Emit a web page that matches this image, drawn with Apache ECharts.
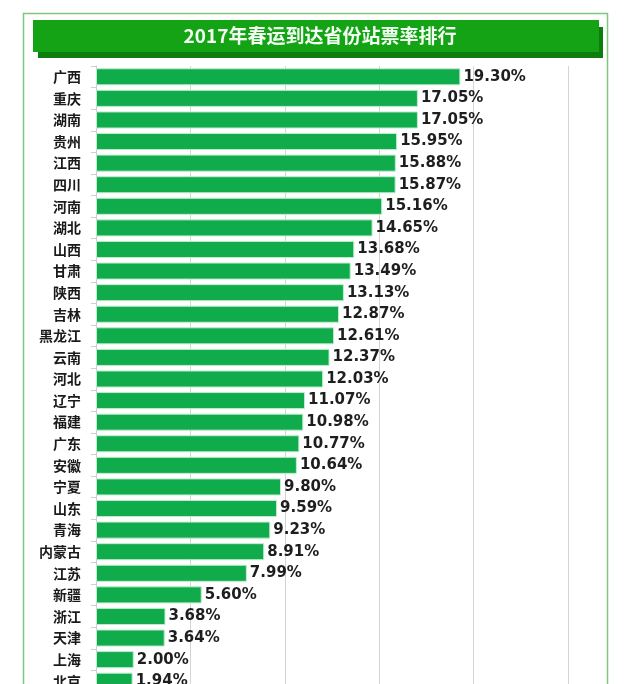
<!DOCTYPE html>
<html>
<head>
<meta charset="utf-8">
<script src="https://cdn.jsdelivr.net/npm/echarts@6/dist/echarts.min.js"></script>
<style>html,body{margin:0;padding:0;background:#fff;overflow:hidden;}#c{width:640px;height:693px;}</style>
</head>
<body>
<div id="c"></div>
<script>
const titleText = '2017年春运到达省份站票率排行';
const provinces = ['广西','重庆','湖南','贵州','江西','四川','河南','湖北','山西','甘肃','陕西','吉林','黑龙江','云南','河北','辽宁','福建','广东','安徽','宁夏','山东','青海','内蒙古','江苏','新疆','浙江','天津','上海','北京'];
const rates = [19.30,17.05,17.05,15.95,15.88,15.87,15.16,14.65,13.68,13.49,13.13,12.87,12.61,12.37,12.03,11.07,10.98,10.77,10.64,9.80,9.59,9.23,8.91,7.99,5.60,3.68,3.64,2.00,1.94];
const xTicks = [0,5,10,15,20,25];

const chart = echarts.init(document.getElementById('c'), null, {renderer:'canvas'});
const cjk = '"Noto Sans CJK SC","Noto Sans",sans-serif';
chart.setOption({
  animation:false,
  backgroundColor:'#ffffff',
  graphic:[
    {type:'rect', shape:{x:23.5,y:13.5,width:584,height:700}, style:{fill:'none',stroke:'#7fc77f',lineWidth:1.5}, z:0},
    {type:'rect', shape:{x:38,y:27,width:565,height:31}, style:{fill:'#0d7d0d'}, z:1},
    {type:'rect', shape:{x:33,y:20,width:566,height:32}, style:{fill:'#14a314'}, z:2},
    {type:'text', left:'center', top:26, style:{text:titleText, fill:'#f4fff4', font:'bold 19px ' + cjk}, z:3}
  ],
  grid:{left:96, top:66, right:72, bottom:1, containLabel:false},
  xAxis:{
    type:'value', min:xTicks[0], max:xTicks[xTicks.length-1], interval:5,
    axisLabel:{show:false}, axisTick:{show:false}, axisLine:{show:false},
    splitLine:{show:true, lineStyle:{color:'#d4d4d4', width:1}}
  },
  yAxis:{
    type:'category', data:provinces, inverse:true,
    axisLine:{show:true, lineStyle:{color:'#cfcfcf'}},
    axisTick:{show:true, length:5, lineStyle:{color:'#cfcfcf'}},
    axisLabel:{margin:15, color:'#1a1a1a', fontWeight:'bold', fontSize:14, fontFamily:cjk}
  },
  series:[{
    type:'bar', data:rates, barCategoryGap:'21%',
    itemStyle:{color:'#10ab4b', borderColor:'#bfeccf', borderWidth:1},
    label:{show:true, position:'right', distance:3, formatter:p=>p.value.toFixed(2)+'%', color:'#1e1e1e', fontWeight:'bold', fontSize:15, fontFamily:'"DejaVu Sans","Noto Sans",sans-serif'}
  }]
});
</script>
</body>
</html>
